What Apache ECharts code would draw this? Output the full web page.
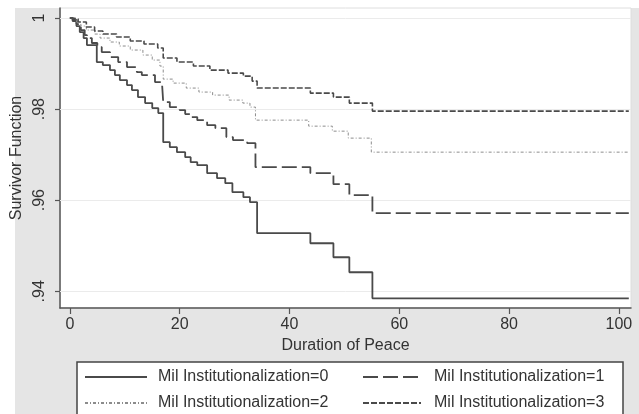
<!DOCTYPE html>
<html>
<head>
<meta charset="utf-8">
<script src="https://cdn.jsdelivr.net/npm/echarts@6/dist/echarts.min.js"></script>
<style>
html,body{margin:0;padding:0;background:#fff;}
#chart{width:639px;height:414px;}
</style>
</head>
<body>
<div id="chart"></div>
<script>
// Series names
const seriesNames = ['Mil Institutionalization=0','Mil Institutionalization=1','Mil Institutionalization=2','Mil Institutionalization=3'];

// Step times (duration of peace) and survivor values
const mi0Time = [0,0.5,1.2,1.8,2.5,3.1,4.9,6.0,7.3,8.2,9.1,10.4,11.3,12.4,13.7,15.0,16.1,17.0,18.2,19.5,21.0,22.0,23.2,25.0,26.8,28.3,29.6,31.6,32.8,34.1,43.8,48.0,50.9,55.1,101.8];
const mi0Surv = [1,0.99934,0.99824,0.99692,0.99560,0.99407,0.99033,0.98967,0.98857,0.98747,0.98637,0.98527,0.98418,0.98264,0.98132,0.98022,0.97912,0.97275,0.97165,0.97055,0.96945,0.96835,0.96769,0.96593,0.96484,0.96374,0.96176,0.96066,0.95956,0.95275,0.95055,0.94747,0.94418,0.93846,0.93846];

const mi1Time = [0,0.5,1.2,2.0,2.7,3.1,4.0,5.0,5.8,7.3,8.8,10.4,12.2,13.1,15.5,16.8,17.0,18.2,20.0,21.0,22.0,23.2,25.0,26.5,28.5,29.7,32.3,33.8,43.8,48.0,50.9,55.1,101.8];
const mi1Surv = [1,0.99956,0.99868,0.99736,0.99626,0.99560,0.99451,0.99363,0.99253,0.99143,0.99033,0.98923,0.98813,0.98747,0.98593,0.98527,0.98154,0.98044,0.97978,0.97890,0.97824,0.97758,0.97648,0.97582,0.97385,0.97319,0.97253,0.96725,0.96593,0.96352,0.96110,0.95714,0.95714];

const mi2Time = [0,0.5,1.2,2.0,3.0,4.5,5.5,7.3,9.0,11.0,13.3,15.0,16.4,17.0,18.8,21.2,23.5,26.0,29.0,31.5,32.8,33.8,43.5,47.8,50.7,54.9,101.8];
const mi2Surv = [1,0.99978,0.99912,0.99824,0.99736,0.99648,0.99560,0.99473,0.99385,0.99297,0.99187,0.99077,0.98945,0.98659,0.98571,0.98462,0.98374,0.98308,0.98198,0.98132,0.98044,0.97758,0.97626,0.97516,0.97363,0.97055,0.97055];

const mi3Time = [0,0.5,1.5,3.0,4.5,6.0,8.5,11.0,13.5,16.0,17.0,19.5,22.5,25.5,28.8,31.6,33.2,34.1,43.8,48.0,50.9,55.1,101.8];
const mi3Surv = [1,0.99978,0.99912,0.99802,0.99714,0.99648,0.99582,0.99495,0.99429,0.99341,0.99121,0.99033,0.98945,0.98857,0.98791,0.98725,0.98615,0.98462,0.98352,0.98264,0.98132,0.97956,0.97956];

// Tick values and labels
const xTicks = [0,20,40,60,80,100];
const yTicks = [0.94,0.96,0.98,1];
const yTickLabels = ['.94','.96','.98','1'];

function pairs(t, s){ return t.map((v,i)=>[v, s[i]]); }

const chart = echarts.init(document.getElementById('chart'), null, {renderer:'canvas'});
const txt = '#333';
const lineCol = '#4a4a4a';
const font = 'Liberation Sans, Arial, sans-serif';
const hiddenSymbol = {color:'rgba(0,0,0,0)', borderColor:'rgba(0,0,0,0)', borderWidth:0, opacity:0};

const option = {
  backgroundColor: '#e5e5e5',
  animation: false,
  textStyle: {fontFamily: font},
  graphic: [
    {type:'rect', shape:{x:0,y:0,width:639,height:8}, style:{fill:'#fff'}, z:-1, silent:true},
    {type:'rect', shape:{x:0,y:0,width:15,height:414}, style:{fill:'#fff'}, z:-1, silent:true},
    {type:'rect', shape:{x:77,y:362,width:546,height:70}, style:{fill:'#fff', stroke:'#444', lineWidth:1.5}, z:1, silent:true}
  ],
  grid: {left:60, right:8, top:8, bottom:106, show:true, backgroundColor:'#fff', borderColor:'#dedede', borderWidth:1},
  legend: [
    {
      data:[seriesNames[0], seriesNames[2]], orient:'vertical', left:84, top:369, padding:0, height:46,
      itemWidth:62, itemHeight:12, itemGap:10, itemStyle:hiddenSymbol,
      textStyle:{fontSize:16, color:txt, fontFamily:font, padding:[0,0,0,6]}, selectedMode:false, z:5
    },
    {
      data:[seriesNames[1], seriesNames[3]], orient:'vertical', left:362, top:369, padding:0, height:46,
      itemWidth:58, itemHeight:12, itemGap:10, itemStyle:hiddenSymbol,
      textStyle:{fontSize:16, color:txt, fontFamily:font, padding:[0,0,0,8]}, selectedMode:false, z:5
    }
  ],
  xAxis: {
    type:'value', min:-1.8, max:102.2,
    name:'Duration of Peace', nameLocation:'middle', nameGap:24,
    nameTextStyle:{fontSize:16, color:txt, fontFamily:font},
    axisLine:{show:true, onZero:false, lineStyle:{color:'#555', width:1.5}},
    axisTick:{show:true, length:6, customValues:xTicks, lineStyle:{color:'#555', width:1.2}},
    axisLabel:{customValues:xTicks, fontSize:16, color:txt, margin:9, fontFamily:font},
    splitLine:{show:false}
  },
  yAxis: {
    type:'value', min:0.93633, max:1.0022,
    name:'Survivor Function', nameLocation:'middle', nameGap:33,
    nameTextStyle:{fontSize:16, color:txt, fontFamily:font},
    axisLine:{show:true, onZero:false, lineStyle:{color:'#555', width:1.5}},
    axisTick:{show:true, length:5, customValues:yTicks, lineStyle:{color:'#555', width:1.2}},
    axisLabel:{customValues:yTicks, rotate:90, fontSize:16, color:txt, margin:12, fontFamily:font,
      formatter: function(v){ const i = yTicks.findIndex(t=>Math.abs(t-v)<1e-9); return i>=0 ? yTickLabels[i] : ''; }},
    splitLine:{show:false}
  },
  series: [
    {name:seriesNames[0], type:'line', step:'end', symbol:'none', data:pairs(mi0Time, mi0Surv),
      lineStyle:{color:lineCol, width:1.8, type:'solid'}, itemStyle:{color:lineCol},
      markLine:{silent:true, symbol:'none', label:{show:false}, lineStyle:{color:'#ebebeb', width:1, type:'solid'},
        data: yTicks.map(v=>({yAxis:v})), z:1}, z:3},
    {name:seriesNames[1], type:'line', step:'end', symbol:'none', data:pairs(mi1Time, mi1Surv),
      lineStyle:{color:lineCol, width:1.8, type:[15,5]}, itemStyle:{color:lineCol}, z:3},
    {name:seriesNames[2], type:'line', step:'end', symbol:'none', data:pairs(mi2Time, mi2Surv),
      lineStyle:{color:'#8c8c8c', width:1, type:[3,2,1,2]}, itemStyle:{color:'#8c8c8c'}, z:3},
    {name:seriesNames[3], type:'line', step:'end', symbol:'none', data:pairs(mi3Time, mi3Surv),
      lineStyle:{color:lineCol, width:1.6, type:[6,2]}, itemStyle:{color:lineCol}, z:3}
  ]
};
chart.setOption(option);
</script>
</body>
</html>
